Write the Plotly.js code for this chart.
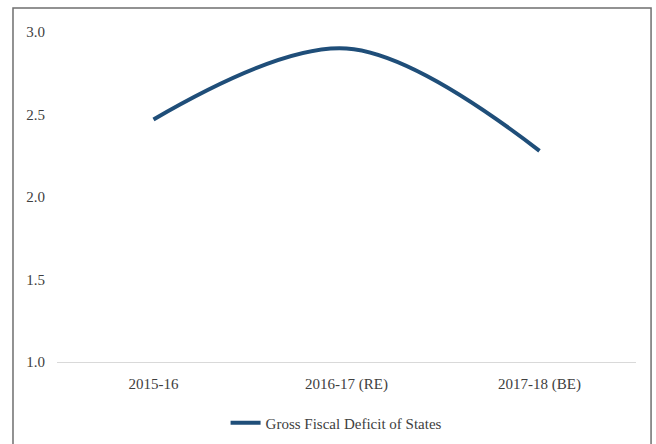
<!DOCTYPE html>
<html>
<head>
<meta charset="utf-8">
<script src="https://cdn.plot.ly/plotly-3.0.1.min.js"></script>
<style>html,body{margin:0;padding:0;background:#fff;}#chart{width:656px;height:444px;}</style>
</head>
<body>
<div id="chart"></div>
<script>
const categories = ["2015-16", "2016-17 (RE)", "2017-18 (BE)"];
const grossFiscalDeficit = [2.47, 2.90, 2.28];
const seriesName = "Gross Fiscal Deficit of States";
const yTicks = [1.0, 1.5, 2.0, 2.5, 3.0];

const trace = {
  x: categories,
  y: grossFiscalDeficit,
  name: seriesName,
  type: "scatter",
  mode: "lines",
  line: {color: "#1f4e79", width: 4, shape: "spline", smoothing: 1},
  showlegend: true
};

const layout = {
  width: 656, height: 444,
  margin: {l: 57, r: 20, t: 32, b: 82, autoexpand: false},
  paper_bgcolor: "#ffffff", plot_bgcolor: "#ffffff",
  font: {family: "Liberation Serif, Times New Roman, serif", size: 15, color: "#404040"},
  xaxis: {
    type: "category", range: [-0.5, 2.5],
    showgrid: false, zeroline: false, showline: true, linecolor: "#d9d9d9", linewidth: 1,
    ticks: "", ticklabelstandoff: 8, fixedrange: true, automargin: false
  },
  yaxis: {
    range: [1, 3], tickvals: yTicks, tickformat: ".1f",
    showgrid: false, zeroline: false, showline: false,
    ticks: "", ticklabelstandoff: 11, fixedrange: true, automargin: false
  },
  legend: {orientation: "h", x: 0.482, xanchor: "center", y: -0.185, yanchor: "middle",
           font: {size: 15, color: "#404040"}, bgcolor: "rgba(0,0,0,0)"},
  shapes: [{
    type: "rect", xref: "paper", yref: "paper",
    x0: -0.076, x1: 1.026, y0: -0.3, y1: 1.073,
    line: {color: "#6f6f6f", width: 1.5}, fillcolor: "rgba(0,0,0,0)", layer: "below"
  }]
};

Plotly.newPlot("chart", [trace], layout, {displayModeBar: false, staticPlot: true});
</script>
</body>
</html>
